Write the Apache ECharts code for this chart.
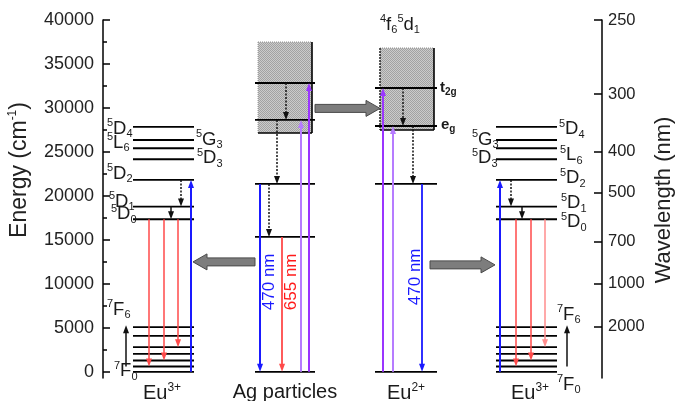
<!DOCTYPE html>
<html><head><meta charset="utf-8">
<script src="https://cdn.jsdelivr.net/npm/echarts@6/dist/echarts.min.js"></script>
<style>html,body{margin:0;padding:0;background:#fff}#c{width:678px;height:401px}</style>
</head><body><div id="c"></div>
<script>
// ---- energies (cm^-1) ----
const eu3Lower = [0, 610, 1290, 2045, 2810, 4090, 5080];            // 7F0 .. 7F6
const eu3Upper = [17350, 18790, 21820, 24170, 25420, 26360, 27840];  // 5D0 5D1 5D2 5D3 5L6 5G3 5D4
const agLevels = [0, 15340, 21360];
const agBand = [27160, 37500];
const agBandLevels = [28640, 32840];
const eu2Levels = [0, 21360];
const eu2Band = [27500, 36820];
const eu2BandLevels = [27950, 32270];                                 // eg, t2g

// ---- axis ticks ----
const energyTicks = [0, 5000, 10000, 15000, 20000, 25000, 30000, 35000, 40000];
const energyMinor = [2500, 7500, 12500, 17500, 22500, 27500, 32500, 37500];
const wavelengthLabels = ['250', '300', '400', '500', '700', '1000', '2000'];
const wavelengthAt = [40000, 31590, 25000, 20340, 14770, 10000, 5110];

// ---- layout ----
const FONT = "'Liberation Sans', Arial, Helvetica, sans-serif";
const Y_MIN = -700, Y_MAX = 40000;
const col = {
  eu3L: { x0: 133, x1: 194 },
  ag:   { x0: 255, x1: 315, b0: 258, b1: 312 },
  eu2:  { x0: 375, x1: 437, b0: 380, b1: 434 },
  eu3R: { x0: 496, x1: 557 }
};
const C = {
  blue: '#1a1aff', red: '#ff4a4a', redL: '#ff8c8c', black: '#111',
  purple: '#9a35ff', purpleL: '#b67cff'
};

// level lines
const levelItems = [];
function addLevels(c, arr) { arr.forEach(e => levelItems.push([c.x0, c.x1, e])); }
addLevels(col.eu3L, eu3Lower); addLevels(col.eu3L, eu3Upper);
addLevels(col.eu3R, eu3Lower); addLevels(col.eu3R, eu3Upper);
addLevels(col.ag, agLevels); addLevels(col.ag, agBandLevels);
addLevels(col.eu2, eu2Levels); addLevels(col.eu2, eu2BandLevels);

// bands (shaded continua)
const bandItems = [
  [col.ag.b0, col.ag.b1, agBand[0], agBand[1], 0],
  [col.eu2.b0, col.eu2.b1, eu2Band[0], eu2Band[1], 1]
];

// transitions: x, from, to, colour, dotted
const arrows = [
  // Eu3+ (left)
  { x: 191, from: eu3Lower[0], to: eu3Upper[2], c: C.blue, w: 2 },
  { x: 181, from: eu3Upper[2], to: eu3Upper[1], c: C.black, dash: true },
  { x: 171, from: eu3Upper[1], to: eu3Upper[0], c: C.black },
  { x: 149, from: eu3Upper[0], to: eu3Lower[1], c: C.red },
  { x: 164, from: eu3Upper[0], to: eu3Lower[2], c: C.red },
  { x: 178, from: eu3Upper[0], to: eu3Lower[4], c: C.red },
  { x: 126, from: eu3Lower[1], to: 5300, c: C.black },
  // Ag particles
  { x: 286, from: agBandLevels[1], to: agBandLevels[0], c: C.black, dash: true },
  { x: 277, from: agBandLevels[0], to: agLevels[2], c: C.black, dash: true },
  { x: 269, from: agLevels[2], to: agLevels[1], c: C.black, dash: true },
  { x: 260, from: agLevels[2], to: agLevels[0], c: C.blue, w: 2 },
  { x: 282, from: agLevels[1], to: agLevels[0], c: C.red, w: 1.8 },
  { x: 301, from: agLevels[0], to: agBandLevels[0], c: C.purpleL, w: 2 },
  { x: 309, from: agLevels[0], to: agBandLevels[1], c: C.purple, w: 2 },
  // Eu2+
  { x: 403, from: eu2BandLevels[1], to: eu2BandLevels[0], c: C.black, dash: true },
  { x: 413, from: eu2BandLevels[0], to: eu2Levels[1], c: C.black, dash: true },
  { x: 422, from: eu2Levels[1], to: eu2Levels[0], c: C.blue, w: 1.8 },
  { x: 383, from: eu2Levels[0], to: eu2BandLevels[1], c: C.purple, w: 2 },
  { x: 393, from: eu2Levels[0], to: eu2BandLevels[0], c: C.purpleL, w: 2 },
  // Eu3+ (right)
  { x: 500, from: eu3Lower[0], to: eu3Upper[2], c: C.blue, w: 2 },
  { x: 511, from: eu3Upper[2], to: eu3Upper[1], c: C.black, dash: true },
  { x: 522, from: eu3Upper[1], to: eu3Upper[0], c: C.black },
  { x: 516, from: eu3Upper[0], to: eu3Lower[1], c: C.red },
  { x: 531, from: eu3Upper[0], to: eu3Lower[2], c: C.red },
  { x: 545, from: eu3Upper[0], to: eu3Lower[4], c: C.redL },
  { x: 567, from: eu3Lower[1], to: 5300, c: C.black }
];

// energy-transfer arrows: tail x, tip x, energy
const transfers = [
  [255, 193, 12500],
  [315, 380, 29950],
  [430, 495, 12160]
];

// text labels
const labels = [
  // Eu3+ left
  { x: 107, e: 27650, t: '{p|5}{m|D}{b|4}' },
  { x: 107, e: 26050, t: '{p|5}{m|L}{b|6}' },
  { x: 107, e: 22500, t: '{p|5}{m|D}{b|2}' },
  { x: 109, e: 19350, t: '{p|5}{m|D}{b|1}' },
  { x: 111, e: 17900, t: '{p|5}{m|D}{b|0}' },
  { x: 196, e: 26380, t: '{p|5}{m|G}{b|3}' },
  { x: 197, e: 24270, t: '{p|5}{m|D}{b|3}' },
  { x: 107, e: 7050, t: '{p|7}{m|F}{b|6}' },
  { x: 114, e: 60, t: '{p|7}{m|F}{b|0}' },
  // Eu3+ right
  { x: 559, e: 27570, t: '{p|5}{m|D}{b|4}' },
  { x: 560, e: 24620, t: '{p|5}{m|L}{b|6}' },
  { x: 560, e: 22000, t: '{p|5}{m|D}{b|2}' },
  { x: 561, e: 19160, t: '{p|5}{m|D}{b|1}' },
  { x: 561, e: 17000, t: '{p|5}{m|D}{b|0}' },
  { x: 472, e: 26380, t: '{p|5}{m|G}{b|3}' },
  { x: 472, e: 24270, t: '{p|5}{m|D}{b|3}' },
  { x: 557, e: 6480, t: '{p|7}{m|F}{b|6}' },
  { x: 557, e: -1480, t: '{p|7}{m|F}{b|0}' },
  // bands
  { x: 380, e: 39450, t: '{p|4}{m|f}{b|6}{p|5}{m|d}{b|1}' },
  { x: 440, e: 32290, t: '{tb|t}{tbs|2g}' },
  { x: 441, e: 28080, t: '{tb|e}{tbs|g}' },
  // species
  { x: 162, e: -2500, t: '{M|Eu}{P|3+}', align: 'center' },
  { x: 285, e: -2400, t: '{M|Ag particles}', align: 'center' },
  { x: 406, e: -2500, t: '{M|Eu}{P|2+}', align: 'center' },
  { x: 530, e: -2500, t: '{M|Eu}{P|3+}', align: 'center' },
  // emission wavelengths
  { x: 269, e: 10230, t: '{n|470 nm}', align: 'center', rot: true, c: C.blue },
  { x: 291, e: 10230, t: '{n|655 nm}', align: 'center', rot: true, c: '#ff1a1a' },
  { x: 415, e: 10800, t: '{n|470 nm}', align: 'center', rot: true, c: C.blue }
];

const RICH = {
  m: { fontSize: 18.5, lineHeight: 22, fontFamily: FONT },
  p: { fontSize: 11, lineHeight: 11, verticalAlign: 'top', fontFamily: FONT },
  b: { fontSize: 11, lineHeight: 11, verticalAlign: 'bottom', fontFamily: FONT },
  M: { fontSize: 20, lineHeight: 24, fontFamily: FONT },
  P: { fontSize: 12, lineHeight: 12, verticalAlign: 'top', fontFamily: FONT },
  tb: { fontSize: 15, lineHeight: 18, fontWeight: 'bold', fontFamily: FONT },
  tbs: { fontSize: 10, lineHeight: 10, fontWeight: 'bold', verticalAlign: 'bottom', fontFamily: FONT },
  n: { fontSize: 17, lineHeight: 20, fontFamily: FONT }
};

// stipple pattern for the bands
const pat = document.createElement('canvas');
pat.width = 2; pat.height = 2;
(function () {
  const g = pat.getContext('2d');
  g.fillStyle = '#cbcbcb'; g.fillRect(0, 0, 2, 2);
  g.fillStyle = '#a2a2a2'; g.fillRect(0, 0, 1, 1); g.fillRect(1, 1, 1, 1);
})();

function renderLevel(params, api) {
  const p1 = api.coord([api.value(0), api.value(2)]);
  const p2 = api.coord([api.value(1), api.value(2)]);
  return { type: 'line', shape: { x1: p1[0], y1: p1[1], x2: p2[0], y2: p2[1] },
    style: { stroke: '#000', lineWidth: 1.8 } };
}

function renderBand(params, api) {
  const a = api.coord([api.value(0), api.value(3)]);
  const b = api.coord([api.value(1), api.value(2)]);
  const solidLeft = api.value(4) === 1;
  return { type: 'group', children: [
    { type: 'rect', shape: { x: a[0], y: a[1], width: b[0] - a[0], height: b[1] - a[1] },
      style: { fill: { image: pat, repeat: 'repeat' } } },
    { type: 'line', shape: { x1: a[0], y1: a[1], x2: b[0], y2: a[1] },
      style: { stroke: '#999', lineWidth: 1, lineDash: [1, 1] } },
    { type: 'line', shape: { x1: a[0], y1: a[1], x2: a[0], y2: b[1] },
      style: solidLeft ? { stroke: '#222', lineWidth: 1.5, lineDash: [2, 1] } : { stroke: '#999', lineWidth: 1, lineDash: [1, 1] } },
    { type: 'line', shape: { x1: b[0], y1: a[1], x2: b[0], y2: b[1] },
      style: { stroke: '#000', lineWidth: 1.6 } },
    { type: 'line', shape: { x1: a[0], y1: b[1], x2: b[0], y2: b[1] },
      style: { stroke: '#000', lineWidth: 1.6 } }
  ] };
}

function renderArrow(params, api) {
  const A = arrows[params.dataIndex];
  const p1 = api.coord([api.value(0), api.value(1)]);
  const p2 = api.coord([api.value(0), api.value(2)]);
  const dir = p2[1] > p1[1] ? 1 : -1;
  const hl = 8, hw = 3;
  const yb = p2[1] - dir * hl;
  return { type: 'group', children: [
    { type: 'line', shape: { x1: p1[0], y1: p1[1], x2: p2[0], y2: yb + dir * 1 },
      style: { stroke: A.c, lineWidth: A.w || 1.5, lineDash: A.dash ? [2, 1.5] : null } },
    { type: 'polygon', shape: { points: [[p2[0], p2[1]], [p2[0] - hw, yb], [p2[0] + hw, yb]] },
      style: { fill: A.c } }
  ] };
}

function renderTransfer(params, api) {
  const t = api.coord([api.value(0), api.value(2)]);
  const h = api.coord([api.value(1), api.value(2)]);
  const d = h[0] > t[0] ? 1 : -1;
  const y = t[1], bw = 4, hw = 8, hl = 14;
  const xb = h[0] - d * hl;
  return { type: 'polygon', shape: { points: [
      [t[0], y - bw], [xb, y - bw], [xb, y - hw], [h[0], y], [xb, y + hw], [xb, y + bw], [t[0], y + bw]
    ] }, style: { fill: '#7d7d7d', stroke: '#4a4a4a', lineWidth: 1 } };
}

function renderLabel(params, api) {
  const L = labels[params.dataIndex];
  const p = api.coord([api.value(0), api.value(1)]);
  return { type: 'text', x: p[0], y: p[1], rotation: L.rot ? Math.PI / 2 : 0,
    style: { text: L.t, rich: RICH, align: L.align || 'left', verticalAlign: 'middle',
      fill: L.c || '#1a1a1a', fontFamily: FONT } };
}

const chart = echarts.init(document.getElementById('c'), null, { renderer: 'canvas' });
chart.setOption({
  animation: false,
  backgroundColor: '#fff',
  grid: { left: 103, right: 76, top: 20, bottom: 23, outerBoundsMode: 'none', containLabel: false },
  xAxis: { type: 'value', min: 103, max: 602, show: false },
  yAxis: [
    { type: 'value', position: 'left', min: Y_MIN, max: Y_MAX,
      axisLine: { show: true, lineStyle: { color: '#000', width: 1.5 } },
      axisTick: { show: true, inside: true, length: 7, customValues: energyTicks, lineStyle: { color: '#000', width: 1.5 } },
      axisLabel: { show: true, customValues: energyTicks, fontSize: 18, color: '#222', margin: 9, fontFamily: FONT,
        formatter: v => String(Math.round(v)) },
      splitLine: { show: false } },
    { type: 'value', position: 'left', min: Y_MIN, max: Y_MAX,
      axisLine: { show: false },
      axisTick: { show: true, inside: true, length: 4, customValues: energyMinor, lineStyle: { color: '#000', width: 1.5 } },
      axisLabel: { show: false }, splitLine: { show: false } },
    { type: 'value', position: 'right', min: Y_MIN, max: Y_MAX,
      axisLine: { show: true, lineStyle: { color: '#000', width: 1.5 } },
      axisTick: { show: true, inside: true, length: 8, customValues: wavelengthAt, lineStyle: { color: '#000', width: 1.5 } },
      axisLabel: { show: true, customValues: wavelengthAt, fontSize: 16.5, color: '#222', margin: 6, fontFamily: FONT,
        formatter: function (v) {
          let k = 0;
          wavelengthAt.forEach((w, i) => { if (Math.abs(w - v) < Math.abs(wavelengthAt[k] - v)) k = i; });
          return wavelengthLabels[k];
        } },
      splitLine: { show: false } }
  ],
  graphic: [
    { type: 'text', x: 20, y: 170, rotation: Math.PI / 2,
      style: { text: '{t|Energy (cm}{s|-1}{t|)}', align: 'center', verticalAlign: 'middle', fill: '#222',
        rich: { t: { fontSize: 23, lineHeight: 27, fontFamily: FONT }, s: { fontSize: 12, lineHeight: 12, verticalAlign: 'top', fontFamily: FONT } } } },
    { type: 'text', x: 664, y: 200, rotation: Math.PI / 2,
      style: { text: 'Wavelength (nm)', align: 'center', verticalAlign: 'middle', fill: '#222', fontSize: 22, fontFamily: FONT } }
  ],
  series: [
    { type: 'custom', name: 'bands', renderItem: renderBand, data: bandItems, z: 1 },
    { type: 'custom', name: 'levels', renderItem: renderLevel, data: levelItems, z: 2 },
    { type: 'custom', name: 'transitions', renderItem: renderArrow, data: arrows.map(a => [a.x, a.from, a.to]), z: 3 },
    { type: 'custom', name: 'transfer', renderItem: renderTransfer, data: transfers, z: 3 },
    { type: 'custom', name: 'labels', renderItem: renderLabel, data: labels.map(l => [l.x, l.e]), z: 4 }
  ]
});
</script></body></html>
